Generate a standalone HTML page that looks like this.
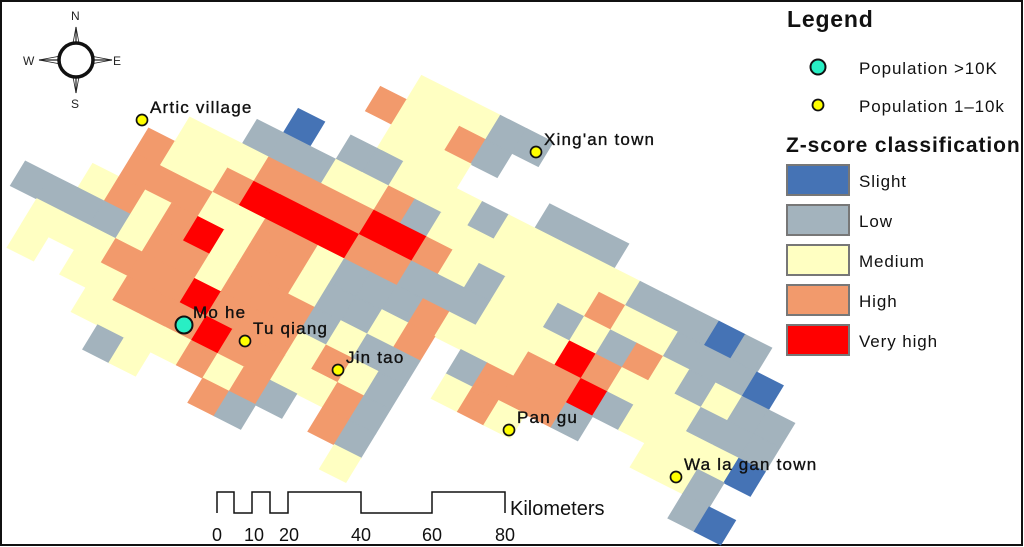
<!DOCTYPE html>
<html><head><meta charset="utf-8"><style>
html,body{margin:0;padding:0;background:#fff;overflow:hidden;}
svg{display:block;font-family:"Liberation Sans",sans-serif;}
</style></head><body>
<svg id="map" width="1024" height="547" viewBox="0 0 1024 547" xmlns="http://www.w3.org/2000/svg">
<rect x="1" y="1" width="1021" height="544" fill="#fff" stroke="#111" stroke-width="2"/>
<g id="grid" transform="matrix(26.3,13.3,-14.8,24.3,304,127.4)"></g>
<g id="towns"></g>
<g fill="#222" stroke="#222">
<polygon points="76,27 79.5,46 72.5,46" stroke-width="0.8" fill="#fff"/>
<polygon points="76,93 79.5,74 72.5,74" stroke-width="0.8" fill="#fff"/>
<polygon points="39,60 58,56.5 58,63.5" stroke-width="0.8" fill="#fff"/>
<polygon points="112,60 93,56.5 93,63.5" stroke-width="0.8" fill="#fff"/>
<line x1="76" y1="27" x2="76" y2="93" stroke-width="1.2"/>
<line x1="39" y1="60" x2="112" y2="60" stroke-width="1.2"/>
<circle cx="76" cy="60" r="17" fill="#fff" stroke="#111" stroke-width="3.5"/>
<text x="71" y="20" font-size="12" stroke="none" fill="#222">N</text>
<text x="71" y="108" font-size="12" stroke="none" fill="#222">S</text>
<text x="23" y="65" font-size="12" stroke="none" fill="#222">W</text>
<text x="113" y="65" font-size="12" stroke="none" fill="#222">E</text>
</g>
<g>
<polyline points="217,513 217,492 234,492 234,513 252,513 252,492 270,492 270,513 288,513 288,492 361,492 361,513 432,513 432,492 505,492 505,513" fill="none" stroke="#111" stroke-width="1.5"/>
<g font-size="18" fill="#111" text-anchor="middle">
<text x="217" y="541">0</text>
<text x="254" y="541">10</text>
<text x="289" y="541">20</text>
<text x="361" y="541">40</text>
<text x="432" y="541">60</text>
<text x="505" y="541">80</text>
</g>
<text x="510" y="515" font-size="20" fill="#111">Kilometers</text>
</g>
<g fill="#111">
<text x="787" y="27" font-size="23" font-weight="bold" letter-spacing="0.8">Legend</text>
<circle cx="818" cy="67" r="7.5" fill="#28efc4" stroke="#111" stroke-width="2"/>
<text x="859" y="74" font-size="17" letter-spacing="0.9">Population &gt;10K</text>
<circle cx="818" cy="105" r="5.5" fill="#ffff00" stroke="#111" stroke-width="1.8"/>
<text x="859" y="112" font-size="17" letter-spacing="0.9">Population 1–10k</text>
<text x="786" y="152" font-size="21" font-weight="bold" letter-spacing="0.9">Z-score classification</text>
<g id="legswatch"></g>
</g>
</svg>
<script>
const classColors = {S:'#4573b5', L:'#a3b3bd', M:'#ffffc2', H:'#f29a6c', V:'#ff0000'};
const classNames = ['Slight','Low','Medium','High','Very high'];
const classKeys = ['S','L','M','H','V'];
const rowIndex = [-3,-2,-1,0,1,2,3,4,5,6,7,8,9,10];
const rowStart = [3,2,3,0,-1,-3,-4,-4,-5,-7,-6,-6,-3,-2];
const rowCells = [
 "MMMLL",
 "HMMHL",
 "MMM...LLL",
 "S.LLMMMLMMMMMLLLSL",
 "LLLMMHLMMMMMMHMMLLLS",
 "MMMHHHHVVHMLMMLMLHMLMLL",
 "HMMHVVVVHHLLLMMMVHMMMLLL",
 "HHHMMHHMLLLHMMMHHVLMMMMS",
 "MHMHVMHHMLLMH.LHHHL..MML",
 "LLLLMHHMHHHLMLL.MHM......LS",
 "MMMHHHVHHHMHML",
 "M.MMHHHVHHMMHL",
 "MMMMHMHL.HL",
 "LM..HL...M"
];
const townNames = ['Artic village',"Xing'an town",'Mo he','Tu qiang','Jin tao','Pan gu','Wa la gan town'];
const townX = [142,536,184,245,338,509,676];
const townY = [120,152,325,341,370,430,477];
const townPop = ['small','small','large','small','small','small','small'];
const NS='http://www.w3.org/2000/svg';
const grid=document.getElementById('grid');
rowCells.forEach((s,r)=>{
  const j=rowIndex[r];
  for(let k=0;k<s.length;k++){
    const c=s[k]; if(c==='.') continue;
    const i=rowStart[r]+k;
    const el=document.createElementNS(NS,'rect');
    el.setAttribute('x',i-0.5); el.setAttribute('y',j-0.5);
    el.setAttribute('width',1); el.setAttribute('height',1);
    el.setAttribute('fill',classColors[c]);
    el.setAttribute('stroke',classColors[c]); el.setAttribute('stroke-width','0.04');
    
    
    grid.appendChild(el);
  }
});
const towns=document.getElementById('towns');
townNames.forEach((n,k)=>{
  const big=townPop[k]==='large';
  const c=document.createElementNS(NS,'circle');
  c.setAttribute('cx',townX[k]); c.setAttribute('cy',townY[k]); c.setAttribute('r',big?8.5:5.5);
  c.setAttribute('fill',big?'#28efc4':'#ffff00'); c.setAttribute('stroke','#111'); c.setAttribute('stroke-width',big?2:1.7);
  
  
  towns.appendChild(c);
  const t=document.createElementNS(NS,'text');
  t.setAttribute('x',townX[k]+(big?9:8)); t.setAttribute('y',townY[k]-7);
  t.setAttribute('font-size','17'); t.setAttribute('fill','#111');
  t.setAttribute('letter-spacing','1.2'); t.setAttribute('stroke','#111'); t.setAttribute('stroke-width','0.35');
  t.textContent=n;
  
  
  towns.appendChild(t);
});
const lg=document.getElementById('legswatch');
classKeys.forEach((k,idx)=>{
  const y=165+idx*40;
  const r=document.createElementNS(NS,'rect');
  r.setAttribute('x',787); r.setAttribute('y',y); r.setAttribute('width',62); r.setAttribute('height',30);
  r.setAttribute('fill',classColors[k]); r.setAttribute('stroke','#777'); r.setAttribute('stroke-width','2');
  
  
  lg.appendChild(r);
  const t=document.createElementNS(NS,'text');
  t.setAttribute('x',859); t.setAttribute('y',y+22); t.setAttribute('font-size','17'); t.setAttribute('fill','#111');
  t.setAttribute('letter-spacing','0.9');
  t.textContent=classNames[idx];
  
  
  lg.appendChild(t);
});
</script>
</body></html>
